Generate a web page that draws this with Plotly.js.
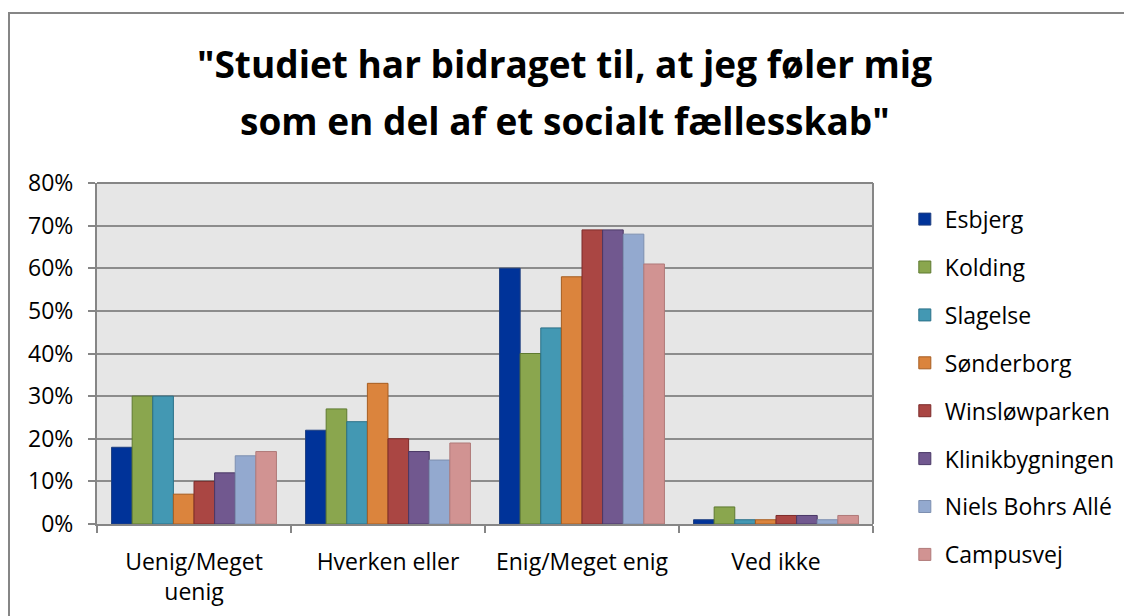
<!DOCTYPE html>
<html><head><meta charset="utf-8">
<script src="https://cdn.plot.ly/plotly-3.0.1.min.js"></script>
<style>
body{margin:0;padding:0;background:#fff;}
#chart{position:absolute;left:0;top:0;width:1124px;height:616px;}
#frame{position:absolute;left:8px;top:12px;width:1120px;height:610px;border:2px solid #868686;pointer-events:none;}
</style></head>
<body>
<div id="chart"></div>
<div id="frame"></div>
<script>
const categories = ["Uenig/Meget<br>uenig", "Hverken eller", "Enig/Meget enig", "Ved ikke"];
const seriesNames = ["Esbjerg", "Kolding", "Slagelse", "Sønderborg", "Winsløwparken", "Klinikbygningen", "Niels Bohrs Allé", "Campusvej"];
const esbjerg = [0.18, 0.22, 0.60, 0.01];
const kolding = [0.30, 0.27, 0.40, 0.04];
const slagelse = [0.30, 0.24, 0.46, 0.01];
const sonderborg = [0.07, 0.33, 0.58, 0.01];
const winslowparken = [0.10, 0.20, 0.69, 0.02];
const klinikbygningen = [0.12, 0.17, 0.69, 0.02];
const nielsBohrs = [0.16, 0.15, 0.68, 0.01];
const campusvej = [0.17, 0.19, 0.61, 0.02];
const yTickVals = [0, 0.1, 0.2, 0.3, 0.4, 0.5, 0.6, 0.7, 0.8];
const yTickText = ["0%", "10%", "20%", "30%", "40%", "50%", "60%", "70%", "80%"];
const titleLines = ["\"Studiet har bidraget til, at jeg føler mig", "som en del af et socialt fællesskab\""];

const values = [esbjerg, kolding, slagelse, sonderborg, winslowparken, klinikbygningen, nielsBohrs, campusvej];
const fills = ["#003399", "#8aa64e", "#4398b3", "#db843d", "#aa4643", "#71588f", "#93a9cf", "#d19392"];
const lines = ["#1f3f80", "#5e7a30", "#2a7088", "#a65d20", "#7d2b2a", "#4a3866", "#7d8fb0", "#b07a79"];

const traces = values.map((v, i) => ({
  type: "bar", name: seriesNames[i], x: categories, y: v,
  legendgroup: "g" + i,
  marker: {color: fills[i], line: {color: lines[i], width: 1}},
  hoverinfo: "skip"
}));

const font = "Open Sans, Noto Sans, sans-serif";
const layout = {
  width: 1124, height: 616,
  margin: {l: 97, r: 251, t: 183, b: 92, autoexpand: false},
  paper_bgcolor: "#ffffff", plot_bgcolor: "#e6e6e6",
  font: {family: font, size: 23, color: "#000"},
  barmode: "group", bargap: 0.15, bargroupgap: 0,
  showlegend: true,
  legend: {x: 1.041, xanchor: "left", y: 0.957, yanchor: "top", maxheight: 600,
           font: {family: font, size: 23, color: "#000"},
           tracegroupgap: 15, bgcolor: "rgba(0,0,0,0)", itemwidth: 30},
  xaxis: {type: "category", showgrid: false, showline: true, linecolor: "#868686", linewidth: 2,
          ticks: "outside", tickson: "boundaries", ticklen: 7, tickcolor: "#868686", tickwidth: 2,
          ticklabelstandoff: 16,
          tickfont: {family: font, size: 23, color: "#000"}, fixedrange: true},
  yaxis: {range: [0, 0.8], tickvals: yTickVals, ticktext: yTickText, showgrid: true,
          gridcolor: "#8c8c8c", gridwidth: 2, showline: true, linecolor: "#868686", linewidth: 2,
          ticks: "outside", ticklen: 7, tickcolor: "#868686", tickwidth: 2, zeroline: false,
          ticklabelstandoff: 10,
          tickfont: {family: font, size: 23, color: "#000"}, fixedrange: true},
  shapes: [{type: "line", xref: "paper", yref: "paper", x0: 1, x1: 1, y0: 0, y1: 1, line: {color: "#868686", width: 2}},
           {type: "line", xref: "paper", yref: "paper", x0: 0, x1: 1, y0: 1, y1: 1, line: {color: "#868686", width: 2}}],
  annotations: [
    {text: "<b>" + titleLines[0] + "</b>", xref: "paper", yref: "paper", x: 0.603, y: 1.349, xanchor: "center", yanchor: "middle",
     showarrow: false, font: {family: font, size: 37, color: "#000"}},
    {text: "<b>" + titleLines[1] + "</b>", xref: "paper", yref: "paper", x: 0.603, y: 1.182, xanchor: "center", yanchor: "middle",
     showarrow: false, font: {family: font, size: 37, color: "#000"}}
  ]
};
Plotly.newPlot("chart", traces, layout, {displayModeBar: false, staticPlot: true});
</script>
</body></html>
